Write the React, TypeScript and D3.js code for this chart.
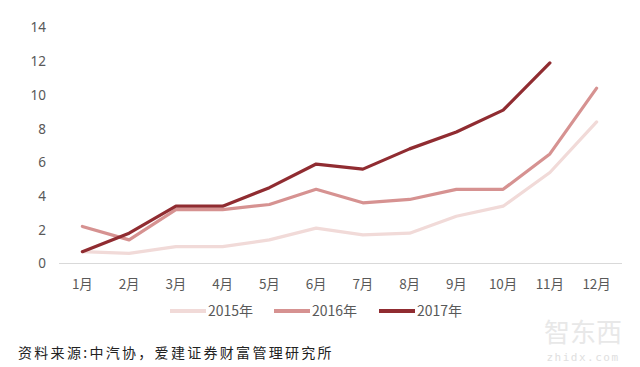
import { useEffect, useRef } from 'react'
import * as d3 from 'd3'

const months = ['1月', '2月', '3月', '4月', '5月', '6月', '7月', '8月', '9月', '10月', '11月', '12月']
const yTicks = [0, 2, 4, 6, 8, 10, 12, 14]

const sales2015 = [0.7, 0.6, 1.0, 1.0, 1.4, 2.1, 1.7, 1.8, 2.8, 3.4, 5.4, 8.4]
const sales2016 = [2.2, 1.4, 3.2, 3.2, 3.5, 4.4, 3.6, 3.8, 4.4, 4.4, 6.5, 10.4]
const sales2017 = [0.7, 1.8, 3.4, 3.4, 4.5, 5.9, 5.6, 6.8, 7.8, 9.1, 11.9]

const seriesNames = ['2015年', '2016年', '2017年']
const seriesColors = ['#f1dad8', '#d69291', '#902c31']

export default function App() {
  const svgRef = useRef<SVGSVGElement>(null)

  useEffect(() => {
    if (!svgRef.current) return
    const svg = d3.select(svgRef.current)
    svg.selectAll('*').remove()

    const width = 640
    const height = 367
    svg.attr('width', width).attr('height', height)

    svg.append('rect').attr('width', width).attr('height', height).attr('fill', '#ffffff')

    const x = d3.scaleBand<string>().domain(months).range([59, 620]).padding(0)
    const y = d3.scaleLinear().domain([0, 14]).range([263.5, 27.5])
    const cx = (m: string) => x(m)! + x.bandwidth() / 2

    // y labels
    svg.append('g')
      .selectAll('text')
      .data(yTicks)
      .enter().append('text')
      .attr('x', 46)
      .attr('y', d => y(d))
      .attr('dy', '0.36em')
      .attr('text-anchor', 'end')
      .style('font-family', '"Noto Sans", sans-serif')
      .style('font-size', '13.5px')
      .style('fill', '#595959')
      .text(d => d)

    // baseline
    svg.append('line')
      .attr('x1', 59).attr('x2', 622)
      .attr('y1', y(0)).attr('y2', y(0))
      .attr('stroke', '#d9d9d9')
      .attr('stroke-width', 1.2)

    // x labels
    svg.append('g')
      .selectAll('text')
      .data(months)
      .enter().append('text')
      .attr('x', d => cx(d))
      .attr('y', 289)
      .attr('text-anchor', 'middle')
      .style('font-family', '"Noto Sans CJK SC", sans-serif')
      .style('font-size', '13.5px')
      .style('fill', '#595959')
      .text(d => d)

    const all = [sales2015, sales2016, sales2017]
    const line = d3.line<number>()
      .x((_, i) => cx(months[i]))
      .y(d => y(d))

    all.forEach((vals, k) => {
      svg.append('path')
        .datum(vals)
        .attr('d', line)
        .attr('fill', 'none')
        .attr('stroke', seriesColors[k])
        .attr('stroke-width', 3.2)
        .attr('stroke-linejoin', 'round')
        .attr('stroke-linecap', 'round')
    })

    // legend
    const legendX = [170, 274, 379]
    const legend = svg.append('g')
    seriesNames.forEach((name, k) => {
      legend.append('line')
        .attr('x1', legendX[k]).attr('x2', legendX[k] + 36)
        .attr('y1', 311).attr('y2', 311)
        .attr('stroke', seriesColors[k])
        .attr('stroke-width', 4)
      legend.append('text')
        .attr('x', legendX[k] + 38)
        .attr('y', 316)
        .style('font-family', '"Noto Sans CJK SC", sans-serif')
        .style('font-size', '14px')
        .style('fill', '#595959')
        .text(name)
    })

    // source
    svg.append('text')
      .attr('x', 18)
      .attr('y', 358)
      .style('font-family', '"Noto Sans CJK SC", sans-serif')
      .style('font-size', '14px')
      .style('letter-spacing', '2.3px')
      .style('fill', '#222222')
      .text('资料来源:中汽协，爱建证券财富管理研究所')

    // watermark
    svg.append('text')
      .attr('x', 583)
      .attr('y', 342)
      .attr('text-anchor', 'middle')
      .style('font-family', '"Noto Sans CJK SC", sans-serif')
      .style('font-size', '26px')
      .style('fill', '#e8e8e8')
      .text('智东西')
    svg.append('text')
      .attr('x', 583)
      .attr('y', 361)
      .attr('text-anchor', 'middle')
      .style('font-family', '"DejaVu Sans Mono", monospace')
      .style('font-size', '11px')
      .style('letter-spacing', '1.5px')
      .style('fill', '#e0e0e0')
      .text('zhidx.com')
  }, [])

  return (
    <div style={{ position: 'absolute', left: 0, top: 0 }}>
      <svg ref={svgRef}></svg>
    </div>
  )
}
